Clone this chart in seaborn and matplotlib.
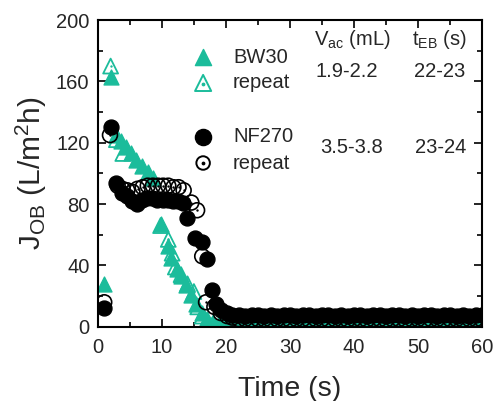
import matplotlib
matplotlib.use("Agg")
import matplotlib.pyplot as plt
from matplotlib.ticker import MultipleLocator
import seaborn as sns
import pandas as pd

# ---------------- data: (time s, flux L/m2h) ----------------
bw30 = [(1, 28), (2, 163), (2.9, 125), (3.6, 121), (4.4, 117), (5.2, 113), (6, 109),
        (6.9, 105), (7.8, 101), (8.6, 97), (9.9, 67), (10.9, 53), (11.5, 45), (12.3, 38),
        (13, 33), (13.8, 27), (14.6, 21), (15.4, 15), (16.2, 9), (17, 5), (18, 3), (19, 2),
        (20, 1.5), (21, 1), (22, 1), (23, 1.5), (24, 1), (25, 1), (26, 1.5), (27, 1),
        (28, 1), (29, 1.5), (30, 1), (31, 1), (32, 1.5), (33, 1), (34, 2), (35, 1),
        (36, 1), (37, 1.5), (38, 1), (39, 1), (40, 1.5), (41, 1), (42, 1), (43, 2),
        (44, 1), (45, 1), (46, 1.5), (47, 1), (48, 1), (49, 1.5), (50, 1), (51, 1),
        (52, 2), (53, 1), (54, 1), (55, 1.5), (56, 1), (57, 1), (58, 1.5), (59, 1), (60, 1)]

bw30_repeat = [(2, 170), (2.9, 122), (3.9, 113), (9.8, 66), (11.0, 57), (11.6, 48),
               (12.1, 39), (13.0, 34), (14.0, 28), (15.0, 23), (15.6, 13), (16.3, 7),
               (17, 4), (18, 2), (19, 1.5), (20, 1), (21, 0.5), (22, 1), (23, 0.5),
               (24, 1), (25, 1), (26, 0.5), (27, 1), (28, 0.5), (29, 1), (30, 1),
               (31, 0.5), (32, 1), (33, 0.5), (34, 1), (35, 1), (36, 0.5), (37, 1),
               (38, 0.5), (39, 1), (40, 1), (41, 0.5), (42, 1), (43, 0.5), (44, 1),
               (45, 1), (46, 0.5), (47, 1), (48, 0.5), (49, 1), (50, 1), (51, 0.5),
               (52, 1), (53, 0.5), (54, 1), (55, 1), (56, 0.5), (57, 1), (58, 0.5),
               (59, 1), (60, 1)]

nf270 = [(1, 12), (2.1, 130), (2.9, 94), (3.7, 87), (4.5, 85), (5.3, 82), (6.1, 80),
         (6.9, 83), (7.7, 84), (8.5, 84), (9.3, 83), (10.1, 83), (10.9, 83), (11.7, 82),
         (12.5, 82), (13.3, 81), (13.9, 71), (15.1, 58), (16.2, 55), (17.0, 44),
         (17.9, 24), (18.5, 15), (19.3, 11), (20.1, 9), (21, 8), (22, 8), (23, 7),
         (24, 8), (25, 7.5), (26, 7), (27, 8), (28, 7), (29, 7.5), (30, 8), (31, 7),
         (32, 7.5), (33, 8), (34, 7), (35, 7.5), (36, 8), (37, 7), (38, 8), (39, 7),
         (40, 7.5), (41, 8), (42, 7), (43, 7.5), (44, 8), (45, 7), (46, 8), (47, 7.5),
         (48, 7), (49, 8), (50, 7), (51, 7.5), (52, 8), (53, 7), (54, 8), (55, 7.5),
         (56, 7), (57, 8), (58, 7), (59, 7.5), (60, 8)]

nf270_repeat = [(1, 16), (1.9, 125), (3.1, 92), (3.8, 90), (4.6, 89), (5.4, 88),
                (6.2, 90), (7.0, 91), (7.8, 92), (8.6, 92), (9.4, 92), (10.2, 92),
                (11.0, 92), (11.8, 91), (12.6, 91), (13.4, 89), (14.6, 81), (15.5, 76),
                (16.3, 46), (16.9, 16), (18.2, 13), (19.2, 9), (20.2, 7), (21, 6),
                (22, 5), (23, 5), (24, 4.5), (25, 5), (26, 5), (27, 4.5), (28, 5),
                (29, 5), (30, 4.5), (31, 5), (32, 5), (33, 4.5), (34, 5), (35, 5),
                (36, 4.5), (37, 5), (38, 5), (39, 4.5), (40, 5), (41, 5), (42, 4.5),
                (43, 5), (44, 5), (45, 4.5), (46, 5), (47, 5), (48, 4.5), (49, 5),
                (50, 5), (51, 4.5), (52, 5), (53, 5), (54, 4.5), (55, 5), (56, 5),
                (57, 4.5), (58, 5), (59, 5), (60, 4.5)]

x_ticks = [0, 10, 20, 30, 40, 50, 60]
y_ticks = [0, 40, 80, 120, 160, 200]

legend_labels = ["BW30", "repeat", "NF270", "repeat"]
vac_values = ["1.9-2.2", "3.5-3.8"]
teb_values = ["22-23", "23-24"]

TEAL = "#1BBC9B"
BLACK = "#000000"

# ---------------- style ----------------
sns.set_style("ticks")
plt.rcParams["font.family"] = ["Liberation Sans", "DejaVu Sans"]
plt.rcParams["mathtext.fontset"] = "custom"
plt.rcParams["mathtext.rm"] = "Liberation Sans"
plt.rcParams["mathtext.it"] = "Liberation Sans"
plt.rcParams["mathtext.default"] = "regular"

fig = plt.figure(figsize=(4.94, 4.01), dpi=100)
ax = fig.add_axes([0.198, 0.185, 0.778, 0.765])

def frame(pairs):
    return pd.DataFrame(pairs, columns=["t", "J"])

df_bw = frame(bw30)
df_bwr = frame(bw30_repeat)
df_nf = frame(nf270)
df_nfr = frame(nf270_repeat)

MS = 115
# BW30 filled
sns.scatterplot(data=df_bw, x="t", y="J", ax=ax, marker="^", s=MS, color=TEAL,
                edgecolor=TEAL, linewidth=1.0, zorder=2)
# BW30 repeat (open triangle with centre dot)
sns.scatterplot(data=df_bwr, x="t", y="J", ax=ax, marker="^", s=MS, color=TEAL,
                facecolor="none", edgecolor=TEAL, linewidth=1.3, zorder=2.1)
sns.scatterplot(data=df_bwr, x="t", y="J", ax=ax, marker="o", s=3, color=TEAL,
                edgecolor=TEAL, linewidth=0, zorder=2.1)
# NF270 filled
sns.scatterplot(data=df_nf, x="t", y="J", ax=ax, marker="o", s=MS, color=BLACK,
                edgecolor=BLACK, linewidth=1.0, zorder=3)
# NF270 repeat (open circle with centre dot)
sns.scatterplot(data=df_nfr, x="t", y="J", ax=ax, marker="o", s=MS, color=BLACK,
                facecolor="none", edgecolor=BLACK, linewidth=1.2, zorder=3.1)
sns.scatterplot(data=df_nfr, x="t", y="J", ax=ax, marker="o", s=3, color=BLACK,
                edgecolor=BLACK, linewidth=0, zorder=3.1)

ax.set_xlim(0, 60)
ax.set_ylim(0, 200)
ax.set_xticks(x_ticks)
ax.set_yticks(y_ticks)
ax.xaxis.set_minor_locator(MultipleLocator(5))
ax.yaxis.set_minor_locator(MultipleLocator(20))
ax.tick_params(axis="both", which="both", direction="in", top=True, right=True,
               width=1.2, color="black", labelsize=14.5)
ax.tick_params(axis="x", pad=8)
ax.tick_params(axis="y", pad=6)
ax.tick_params(which="major", length=6)
ax.tick_params(which="minor", length=3.5)
for sp in ax.spines.values():
    sp.set_visible(True)
    sp.set_linewidth(1.5)
    sp.set_color("black")

ax.set_xlabel("Time (s)", fontsize=20.5, labelpad=14)
ax.set_ylabel("J$_{OB}$ (L/m$^2$h)", fontsize=21.5, labelpad=5)

# ---------------- legend (manual, as in the figure) ----------------
key_x = 0.274
txt_x = 0.352
rows = [0.879, 0.795, 0.619, 0.534]
LS = 135
ax.scatter([key_x], [rows[0]], transform=ax.transAxes, marker="^", s=LS,
           color=TEAL, clip_on=False, zorder=5)
ax.scatter([key_x], [rows[1]], transform=ax.transAxes, marker="^", s=LS,
           facecolor="none", edgecolor=TEAL, linewidth=1.4, clip_on=False, zorder=5)
ax.scatter([key_x], [rows[1] - 0.004], transform=ax.transAxes, marker="o", s=3,
           color=TEAL, clip_on=False, zorder=5)
ax.scatter([key_x], [rows[2]], transform=ax.transAxes, marker="o", s=LS,
           color=BLACK, clip_on=False, zorder=5)
ax.scatter([key_x], [rows[3]], transform=ax.transAxes, marker="o", s=LS * 0.7,
           facecolor="none", edgecolor=BLACK, linewidth=1.4, clip_on=False, zorder=5)
ax.scatter([key_x], [rows[3]], transform=ax.transAxes, marker="o", s=3,
           color=BLACK, clip_on=False, zorder=5)
for lab, yy in zip(legend_labels, rows):
    ax.text(txt_x, yy, lab, transform=ax.transAxes, ha="left", va="center", fontsize=14.5)

TS = 14.5
ax.text(0.662, 0.935, "V$_{ac}$ (mL)", transform=ax.transAxes, ha="center", va="center",
        fontsize=TS)
ax.text(0.89, 0.935, "t$_{EB}$ (s)", transform=ax.transAxes, ha="center", va="center",
        fontsize=TS)
ax.text(0.649, 0.831, vac_values[0], transform=ax.transAxes, ha="center", va="center",
        fontsize=TS)
ax.text(0.89, 0.831, teb_values[0], transform=ax.transAxes, ha="center", va="center",
        fontsize=TS)
ax.text(0.659, 0.586, vac_values[1], transform=ax.transAxes, ha="center", va="center",
        fontsize=TS)
ax.text(0.893, 0.586, teb_values[1], transform=ax.transAxes, ha="center", va="center",
        fontsize=TS)

fig.savefig("out.png", dpi=100, facecolor="white")
